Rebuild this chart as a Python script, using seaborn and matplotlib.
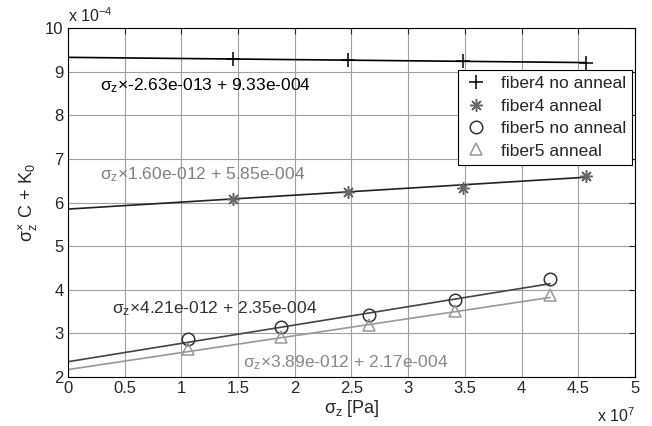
import numpy as np
import matplotlib
matplotlib.use("Agg")
import matplotlib.pyplot as plt
import seaborn as sns

# stress values [Pa] and measured C + K0 for each fibre / treatment
x_f4_noann = [1.455e7, 2.47e7, 3.48e7, 4.57e7]
y_f4_noann = [9.29e-4, 9.27e-4, 9.24e-4, 9.21e-4]
x_f4_ann = [1.455e7, 2.47e7, 3.48e7, 4.57e7]
y_f4_ann = [6.08e-4, 6.24e-4, 6.34e-4, 6.61e-4]
x_f5_noann = [1.06e7, 1.88e7, 2.655e7, 3.41e7, 4.25e7]
y_f5_noann = [2.87e-4, 3.15e-4, 3.42e-4, 3.77e-4, 4.25e-4]
x_f5_ann = [1.06e7, 1.88e7, 2.655e7, 3.41e7, 4.25e7]
y_f5_ann = [2.64e-4, 2.92e-4, 3.19e-4, 3.51e-4, 3.88e-4]

# linear fits (slope, intercept)
fit_f4_noann = (-2.63e-13, 9.33e-4)
fit_f4_ann = (1.60e-12, 5.85e-4)
fit_f5_noann = (4.21e-12, 2.35e-4)
fit_f5_ann = (3.89e-12, 2.17e-4)

labels = ["fiber4 no anneal", "fiber4 anneal", "fiber5 no anneal", "fiber5 anneal"]

XS, YS = 1e7, 1e-4

sns.set_style("white")
plt.rcParams['font.family'] = ['Liberation Sans', 'DejaVu Sans']
plt.rcParams['mathtext.fontset'] = 'custom'
plt.rcParams['mathtext.rm'] = 'Liberation Sans'
plt.rcParams['mathtext.it'] = 'Liberation Sans'

fig, ax = plt.subplots(figsize=(6.52, 4.26), dpi=100)
fig.subplots_adjust(left=0.104, right=0.974, top=0.934, bottom=0.115)

series = [
    (x_f4_noann, y_f4_noann, fit_f4_noann, "+", "#000000", "#000000", 10),
    (x_f4_ann, y_f4_ann, fit_f4_ann, (8, 2, 0), "#666666", "#222222", 9),
    (x_f5_noann, y_f5_noann, fit_f5_noann, "o", "#333333", "#444444", 9),
    (x_f5_ann, y_f5_ann, fit_f5_ann, "^", "#999999", "#999999", 9),
]

for (xs, ys, fit, mk, mcol, lcol, ms), lab in zip(series, labels):
    xs = np.array(xs)
    xl = np.array([0, xs.max()])
    sns.lineplot(x=xl / XS, y=(fit[0] * xl + fit[1]) / YS, color=lcol, lw=1.2, ax=ax)
    sns.lineplot(x=xs / XS, y=np.array(ys) / YS, ax=ax, linestyle='', marker=mk,
                 markersize=ms, markerfacecolor='none', markeredgecolor=mcol,
                 markeredgewidth=1.1, color=mcol, label=lab)

ax.set_xlim(0, 5)
ax.set_ylim(2, 10)
ax.set_xticks(np.arange(0, 5.01, 0.5))
ax.set_yticks(np.arange(2, 10.01, 1))
ax.set_xticklabels(["%g" % v for v in np.arange(0, 5.01, 0.5)])
ax.set_yticklabels(["%g" % v for v in np.arange(2, 10.01, 1)])
ax.tick_params(direction='in', top=True, right=True, length=4, labelsize=12, width=0.8, pad=3)
ax.grid(True, color='#a0a0a0', lw=0.8)
for s in ax.spines.values():
    s.set_color('black')
    s.set_linewidth(0.8)

ax.set_xlabel(r'$\sigma_z$ [Pa]', fontsize=13, labelpad=1)
ax.set_ylabel(r'$\sigma_z^{\times}$ C + K$_0$', fontsize=13, labelpad=4)

ax.text(0.0, 1.01, r'x 10$^{-4}$', transform=ax.transAxes, fontsize=11.5, va='bottom')
ax.text(1.0, -0.085, r'x 10$^{7}$', transform=ax.transAxes, fontsize=11.5, ha='right', va='top')

ax.text(0.28, 8.69, r'$\sigma_z$×-2.63e-013 + 9.33e-004', fontsize=12.5, color='black', va='center')
ax.text(0.28, 6.63, r'$\sigma_z$×1.60e-012 + 5.85e-004', fontsize=12.5, color='#808080', va='center')
ax.text(0.39, 3.56, r'$\sigma_z$×4.21e-012 + 2.35e-004', fontsize=12.5, color='#333333', va='center')
ax.text(1.54, 2.34, r'$\sigma_z$×3.89e-012 + 2.17e-004', fontsize=12.5, color='#888888', va='center')

leg = ax.legend(loc='upper right', bbox_to_anchor=(0.995, 0.88), fontsize=12.5,
                frameon=True, fancybox=False, edgecolor='black', framealpha=1,
                handlelength=1.3, borderpad=0.35, labelspacing=0.42, handletextpad=0.8,
                borderaxespad=0)
leg.get_frame().set_linewidth(0.8)

fig.savefig("out.png", dpi=100)
